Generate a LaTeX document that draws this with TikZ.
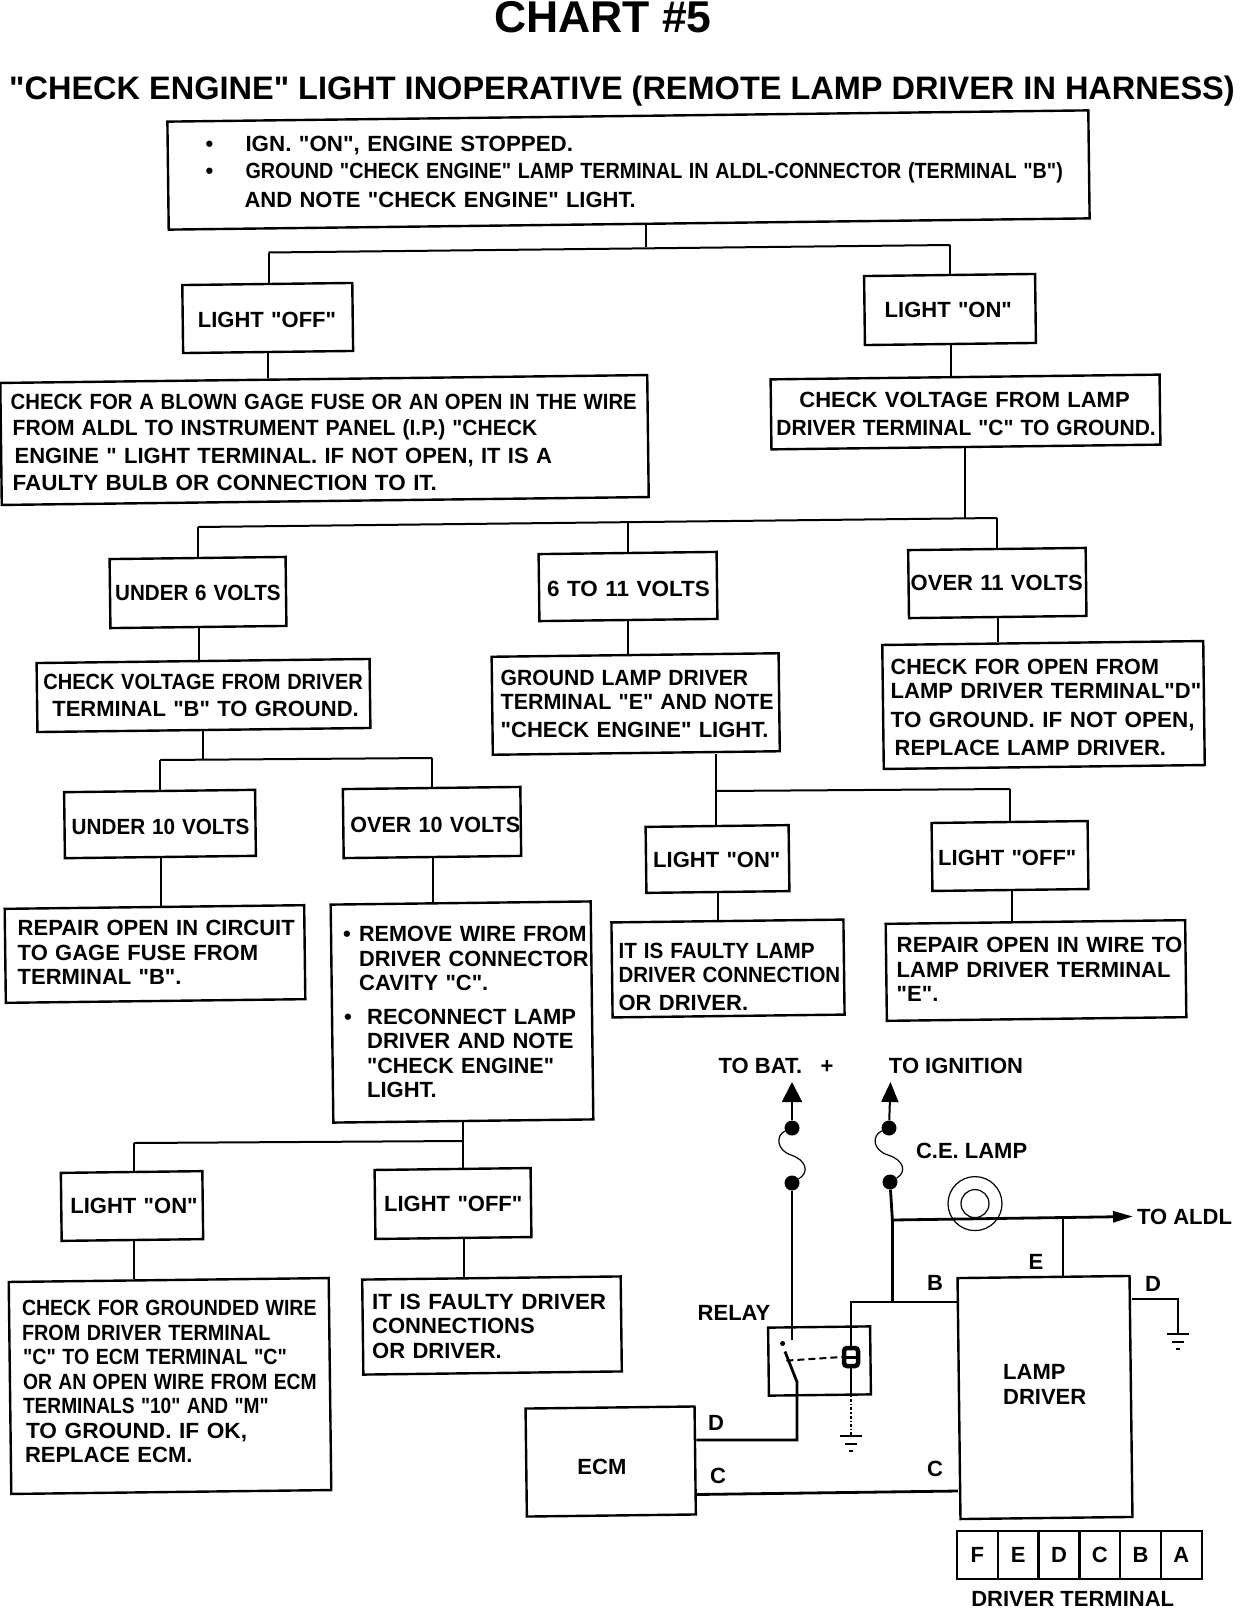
\documentclass[tikz,border=0pt]{standalone}
\usepackage{fontspec,graphicx}
\setmainfont{Liberation Sans}[Ligatures=TeXOff]
\usetikzlibrary{arrows.meta}

\newcommand{\bodyfont}{\fontsize{22}{24.5}\selectfont\bfseries}
% box edges lean a little, the lettering stays level
\newcommand{\boxlines}[2][-8]{\raisebox{#1pt}[0pt][0pt]{\rotatebox{-0.7}{\begin{tabular}{@{}l@{}}#2\end{tabular}}}}
\newcommand{\ind}[1]{\hspace*{#1pt}}
\newcommand{\sq}[2]{\scalebox{#1}[1]{#2}}

\tikzset{
  box/.style 2 args={draw,line width=2.4pt,rotate=0.7,inner sep=0pt,minimum width=#1pt,
    minimum height=#2pt,text width=#1pt,align=left,font=\bodyfont},
  wire/.style={line width=2pt},
  thinwire/.style={line width=1.2pt},
  heavywire/.style={line width=2.8pt},
  dot/.style={circle,fill,inner sep=0pt,minimum size=15pt},
  tag/.style={font=\bodyfont,inner sep=0pt},
  cell/.style={draw,line width=2.4pt,minimum width=40.8pt,minimum height=48pt,inner sep=0pt,font=\bodyfont},
}

\begin{document}
\begin{tikzpicture}[x=1pt,y=-1pt]
\useasboundingbox (0,0) rectangle (1248,1608);

% Titles
\node[inner sep=0pt,font=\fontsize{44.5}{50}\selectfont\bfseries] (chart) at (603,17) {CHART \#5};
\node[inner sep=0pt,font=\fontsize{32.5}{36}\selectfont\bfseries] (heading) at (622,91)
  {"CHECK ENGINE" LIGHT INOPERATIVE (REMOTE LAMP DRIVER IN HARNESS)};

% Upper boxes
\node[box={921}{108}] (top) at (628.5,170) {\boxlines[-4.1]{\ind{37}\makebox[40pt][l]{\textbullet}\sq{1.016}{IGN. "ON", ENGINE STOPPED.}\\[3pt]
  \ind{37}\makebox[40pt][l]{\textbullet}\sq{0.898}{GROUND "CHECK ENGINE" LAMP TERMINAL IN ALDL-CONNECTOR (TERMINAL "B")}\\[4pt]
  \ind{76}AND NOTE "CHECK ENGINE" LIGHT.}};
\node[box={170}{68}] (lightoff) at (267.7,318) {\boxlines[-8.5]{\ind{15}LIGHT "OFF"}};
\node[box={171}{69}] (lighton) at (950,309.5) {\boxlines[-7.7]{\ind{20}LIGHT "ON"}};
\node[box={647}{122}] (checkfuse) at (324.5,440) {\boxlines[-6.5]{\ind{9}\sq{0.923}{CHECK FOR A BLOWN GAGE FUSE OR AN OPEN IN THE WIRE}\\[1pt]
  \ind{11}\sq{0.957}{FROM ALDL TO INSTRUMENT PANEL (I.P.) "CHECK}\\[4pt]
  \ind{13}ENGINE " LIGHT TERMINAL. IF NOT OPEN, IT IS A\\[2pt]
  \ind{11}\sq{1.02}{FAULTY BULB OR CONNECTION TO IT.}}};
\node[box={389}{70}] (checklamp) at (965.5,412) {\boxlines[-7.4]{\ind{28}CHECK VOLTAGE FROM LAMP\\[4pt]
  \ind{5}\sq{0.956}{DRIVER TERMINAL "C" TO GROUND.}}};

% Voltage boxes
\node[box={176}{69}] (under6) at (198,592.5) {\boxlines[-7.6]{\ind{5}\sq{0.936}{UNDER 6 VOLTS}}};
\node[box={178}{67}] (mid6) at (628,586.5) {\boxlines[-9.4]{\ind{8}\sq{1.02}{6 TO 11 VOLTS}}};
\node[box={177.5}{68}] (over11) at (997.3,583) {\boxlines[-6.9]{\ind{2}OVER 11 VOLTS}};
\node[box={333}{69}] (checkdrv) at (203.5,695.5) {\boxlines[-5.8]{\ind{6}\sq{0.91}{CHECK VOLTAGE FROM DRIVER}\\[3pt]
  \ind{15}TERMINAL "B" TO GROUND.}};
\node[box={287}{98}] (groundE) at (635.7,704) {\boxlines[-5.7]{\ind{8}\sq{0.96}{GROUND LAMP DRIVER}\\
  \ind{8}\sq{0.975}{TERMINAL "E" AND NOTE}\\[3pt]
  \ind{8}"CHECK ENGINE" LIGHT.}};
\node[box={321}{124}] (checkD) at (1043.5,705) {\boxlines[-8.1]{\ind{7}\sq{0.98}{CHECK FOR OPEN FROM}\\
  \ind{7}LAMP DRIVER TERMINAL"D"\\[4pt]
  \ind{7}\sq{1.02}{TO GROUND. IF NOT OPEN,}\\[4pt]
  \ind{11}REPLACE LAMP DRIVER.}};
\node[box={191}{66}] (under10) at (160,824) {\boxlines[-9.9]{\ind{7}\sq{0.94}{UNDER 10 VOLTS}}};
\node[box={177.5}{69}] (over10) at (432,822.5) {\boxlines[-9.4]{\ind{7}\sq{0.98}{OVER 10 VOLTS}}};
\node[box={143}{66}] (lighton2) at (717.5,859) {\boxlines{\ind{7}LIGHT "ON"}};
\node[box={156}{68}] (lightoff2) at (1010,856) {\boxlines[-8.8]{\ind{6}LIGHT "OFF"}};

% Result boxes
\node[box={299.5}{94}] (repair1) at (155,954) {\boxlines[-4.9]{\ind{12}REPAIR OPEN IN CIRCUIT\\
  \ind{12}TO GAGE FUSE FROM\\
  \ind{12}TERMINAL "B".}};
\node[box={260}{218}] (remove) at (462,1012) {\boxlines[-6.6]{\ind{10}\makebox[16pt][l]{\textbullet}\sq{0.98}{REMOVE WIRE FROM}\\
  \ind{26}\sq{0.99}{DRIVER CONNECTOR}\\
  \ind{26}CAVITY "C".\\[9pt]
  \ind{11}\makebox[23pt][l]{\textbullet}RECONNECT LAMP\\
  \ind{34}DRIVER AND NOTE\\
  \ind{34}\sq{0.98}{"CHECK ENGINE"}\\
  \ind{34}LIGHT.}};
\node[box={232}{95}] (faulty1) at (728,968.5) {\boxlines[-14.4]{\ind{6}\sq{0.94}{IT IS FAULTY LAMP}\\
  \ind{6}\sq{0.93}{DRIVER CONNECTION}\\[3pt]
  \ind{6}OR DRIVER.}};
\node[box={299.5}{97}] (repair2) at (1036,970.5) {\boxlines[-5]{\ind{10}\sq{1.01}{REPAIR OPEN IN WIRE TO}\\
  \ind{10}LAMP DRIVER TERMINAL\\
  \ind{10}"E".}};
\node[box={141.5}{68}] (lighton3) at (132,1206) {\boxlines[-6.6]{\ind{9}LIGHT "ON"}};
\node[box={156}{69}] (lightoff3) at (453,1203.5) {\boxlines[-7]{\ind{9}LIGHT "OFF"}};
\node[box={320}{212}] (checkgnd) at (170,1386) {\boxlines[-1.5]{\ind{11}\sq{0.886}{CHECK FOR GROUNDED WIRE}\\
  \ind{11}\sq{0.90}{FROM DRIVER TERMINAL}\\
  \ind{12}\sq{0.893}{"C" TO ECM TERMINAL "C"}\\
  \ind{12}\sq{0.877}{OR AN OPEN WIRE FROM ECM}\\
  \ind{12}\sq{0.87}{TERMINALS "10" AND "M"}\\
  \ind{15}\sq{1.03}{TO GROUND. IF OK,}\\
  \ind{14}REPLACE ECM.}};
\node[box={258.5}{95}] (faulty2) at (492,1325.5) {\boxlines[-6.9]{\ind{9}\sq{1.02}{IT IS FAULTY DRIVER}\\
  \ind{9}CONNECTIONS\\
  \ind{9}OR DRIVER.}};

% Branch points
\coordinate (j1) at (646,247);   \coordinate (j1l) at (268.5,252.5); \coordinate (j1r) at (950,245);
\coordinate (j2) at (965,519);   \coordinate (j2l) at (198,527);     \coordinate (j2m) at (627.6,523);
\coordinate (j2r) at (997,518);
\coordinate (j3) at (203,759);   \coordinate (j3l) at (160,760);     \coordinate (j3r) at (432,758);
\coordinate (j4) at (716,791);   \coordinate (j4r) at (1010,789);
\coordinate (j5) at (462.5,1141); \coordinate (j5l) at (134,1143);

\draw[wire] (j1l) -- (j1r);
\draw[wire] (j2l) -- (j2r);
\draw[wire] (j3l) -- (j3r);
\draw[wire] (j4) -- (j4r);
\draw[wire] (j5l) -- (j5);
\foreach \a/\j in {top/j1,checklamp/j2,checkdrv/j3,groundE/j4,remove/j5}
  \draw[wire] (\a.south -| \j) -- (\j);
\foreach \j/\b in {j1l/lightoff,j1r/lighton,j2l/under6,j2m/mid6,j2r/over11,j3l/under10,j3r/over10,j4/lighton2,j4r/lightoff2,j5l/lighton3,j5/lightoff3}
  \draw[wire] (\j) -- (\b.north -| \j);
\foreach \a/\b/\x in {lightoff/checkfuse/268,lighton/checklamp/950.6,under6/checkdrv/199,mid6/groundE/627.6,over11/checkD/998,under10/repair1/161,over10/remove/432.8,lighton2/faulty1/717.8,lightoff2/repair2/1012,lighton3/checkgnd/134,lightoff3/faulty2/463.5}
  \draw[wire] (\a.south -| \x,0) -- (\b.north -| \x,0);

% Wiring sketch
\node[box={169}{108}] (ecm) at (610.7,1461.5) {\boxlines[-12.5]{\ind{51}ECM}};
\node[box={172}{241}] (driver) at (1045,1397.5) {\boxlines[6.5]{\ind{44}LAMP\\ \ind{44}DRIVER}};
\node[draw,line width=2.4pt,rotate=0.7,minimum width=102pt,minimum height=68pt,inner sep=0pt] (relay) at (819.5,1361) {};
\foreach \t [count=\i] in {F,E,D,C,B,A}
  \node[cell] (term\t) at ({957+40.8*(\i-0.5)},1555) {\t};

\node[tag] (bat) at (776,1065.5) {TO BAT.\ \ \ +};
\node[tag] (ign) at (956,1065.5) {TO IGNITION};
\node[tag] (celamp) at (971.6,1150.6) {C.E. LAMP};
\node[tag] (aldl) at (1184.5,1217) {TO ALDL};
\node[tag] (relaytag) at (734,1312.6) {RELAY};
\node[tag] (termtag) at (1072.7,1598.5) {DRIVER TERMINAL};
\node[tag] (ecmD) at (716,1423) {D};
\node[tag] (ecmC) at (718,1476) {C};
\node[tag] (drvC) at (935,1468.5) {C};
\node[tag] (drvB) at (935,1283) {B};
\node[tag] (drvE) at (1036,1262) {E};
\node[tag] (drvD) at (1153,1284) {D};

\node[dot] (batup) at (792,1128) {};
\node[dot] (batlow) at (792,1183) {};
\node[dot] (ignup) at (889,1128) {};
\node[dot] (ignlow) at (890,1182) {};
\coordinate (battip) at (792,1082);
\coordinate (igntip) at (890.5,1082);

% Fuses and feeds
\draw[-{Triangle[length=20pt,width=20pt]},wire] (batup) -- (battip);
\draw[-{Triangle[length=20pt,width=17pt]},wire] (ignup) -- (igntip);
\draw[thinwire] (batup) .. controls (776,1135) and (776,1150) .. (791,1155) .. controls (806,1160) and (810,1172) .. (batlow);
\draw[thinwire] (ignup) .. controls (872,1135) and (872,1150) .. (888,1155) .. controls (904,1160) and (907,1172) .. (ignlow);
\coordinate (batcontact) at (792,1340);
\draw[wire] (batlow) -- (batcontact);

% Lamp
\node[draw,circle,line width=1.2pt,minimum size=54pt,inner sep=0pt] (lampout) at (975,1203.6) {};
\node[draw,circle,line width=1.2pt,minimum size=28pt,inner sep=0pt] (lampin) at (975,1203.6) {};

% Ignition feed and ALDL line
\coordinate (ignfeed) at (892.4,1220);
\coordinate (ignB) at (892.4,1301.5);
\coordinate (aldlE) at (1063,1217.5);
\coordinate (aldltip) at (1133,1216.5);
\draw[heavywire] (ignlow) -- (ignfeed) -- (ignB);
\draw[-{Triangle[length=20pt,width=11pt]},heavywire] (ignfeed) -- (aldltip);
\draw[thinwire] (aldlE) -- (aldlE |- driver.north);

% Driver B line to relay coil
\coordinate (coiltop) at (851,1346);
\coordinate (coilend) at (851,1391);
\coordinate (gndA) at (851,1436);
\coordinate (gndB) at (1178,1334);
\coordinate (turnB) at (851,1302);
\coordinate (turnD) at (1178,1299);
\draw[wire] (driver.west |- turnB) -- (turnB) -- (coiltop);
\node[draw,fill=white,line width=4.5pt,rounded corners=3pt,minimum width=14pt,minimum height=18pt,inner sep=0pt] (coil) at (851,1357) {};
\draw[line width=3pt] (coil.west) -- (coil.east);
\draw[wire] (coil) -- (coilend);
\draw[thinwire,dash dot] (coilend) -- (gndA);

% Contact
\node[dot,minimum size=5pt] (fixed) at (782.6,1343.5) {};
\coordinate (blade) at (785,1351.5);
\coordinate (hinge) at (797,1382);
\coordinate (ecmturn) at (797,1440);
\coordinate (pull) at (786.4,1360.6);
\draw[heavywire] (blade) -- (hinge) -- (ecmturn) -- (ecm.east |- ecmturn);
\draw[wire,dash pattern=on 7pt off 4pt] (pull) -- (coil.west);

% ECM and driver lines
\draw[heavywire] (ecm.east |- 0,1494.5) -- (driver.west |- 0,1491);
\draw[wire] (driver.east |- turnD) -- (turnD) -- (gndB);

% Grounds
\foreach \c in {gndA,gndB}{
  \draw[wire] ([xshift=-11pt]\c) -- ([xshift=11pt]\c);
  \draw[thinwire] ([xshift=-6pt,yshift=-8pt]\c) -- ([xshift=6pt,yshift=-8pt]\c);
  \draw[thinwire] ([xshift=-2pt,yshift=-15pt]\c) -- ([xshift=2pt,yshift=-15pt]\c);
}
\end{tikzpicture}
\end{document}
